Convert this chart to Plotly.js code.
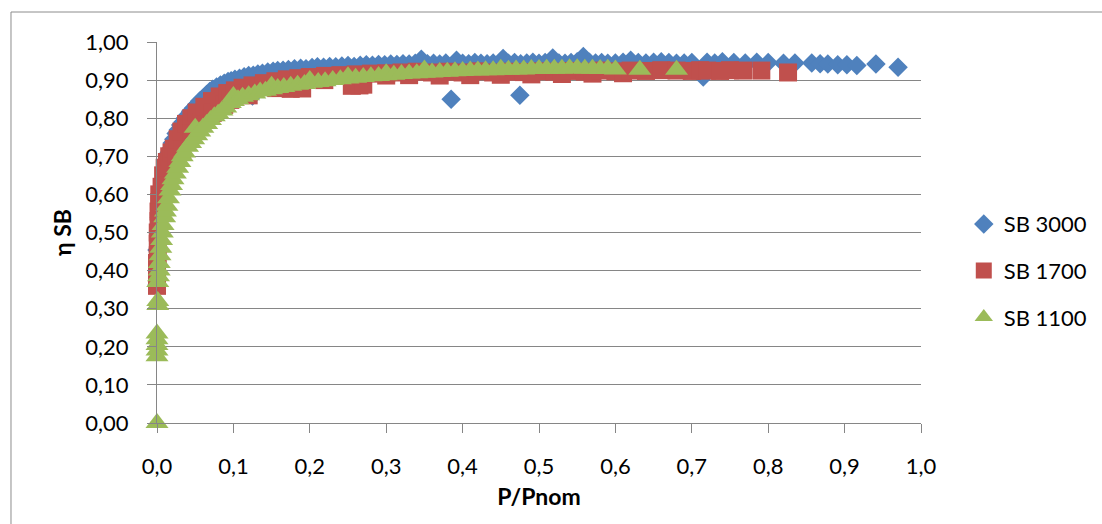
<!DOCTYPE html>
<html>
<head>
<meta charset="utf-8">
<script src="https://cdn.plot.ly/plotly-3.0.1.min.js"></script>
<style>
  html, body { margin: 0; padding: 0; background: #ffffff; }
  #chart { width: 1102px; height: 524px; }
</style>
</head>
<body>
<div id="chart"></div>
<script>
// ---- Data ----
const seriesNames = ["SB 3000", "SB 1700", "SB 1100"];

const sb3000_p = [
  0.000, 0.000, 0.000, 0.002, 0.003, 0.005, 0.007, 0.009, 0.011, 0.012,
  0.014, 0.016, 0.018, 0.020, 0.022, 0.025, 0.028, 0.031, 0.034, 0.037,
  0.040, 0.044, 0.048, 0.052, 0.056, 0.060, 0.065, 0.069, 0.073, 0.078,
  0.083, 0.088, 0.093, 0.097, 0.102, 0.108, 0.114, 0.120, 0.125, 0.126,
  0.132, 0.138, 0.145, 0.152, 0.158, 0.165, 0.172, 0.180, 0.188, 0.195,
  0.203, 0.210, 0.218, 0.226, 0.234, 0.242, 0.250, 0.258, 0.266, 0.266,
  0.274, 0.282, 0.290, 0.298, 0.306, 0.314, 0.322, 0.330, 0.338, 0.346,
  0.354, 0.362, 0.370, 0.378, 0.385, 0.392, 0.400, 0.408, 0.416, 0.424,
  0.432, 0.440, 0.453, 0.460, 0.468, 0.475, 0.476, 0.484, 0.492, 0.500,
  0.508, 0.518, 0.526, 0.534, 0.542, 0.550, 0.558, 0.566, 0.574, 0.582,
  0.590, 0.600, 0.610, 0.620, 0.630, 0.640, 0.650, 0.660, 0.670, 0.680,
  0.690, 0.700, 0.715, 0.720, 0.730, 0.740, 0.755, 0.770, 0.785, 0.800,
  0.820, 0.835, 0.857, 0.868, 0.878, 0.891, 0.903, 0.916, 0.941, 0.970
];
const sb3000_eta = [
  0.362, 0.400, 0.454, 0.500, 0.540, 0.580, 0.610, 0.635, 0.660, 0.675,
  0.690, 0.710, 0.720, 0.735, 0.745, 0.760, 0.770, 0.782, 0.790, 0.800,
  0.808, 0.818, 0.827, 0.836, 0.845, 0.852, 0.862, 0.870, 0.876, 0.882,
  0.887, 0.892, 0.896, 0.898, 0.902, 0.905, 0.909, 0.912, 0.858, 0.913,
  0.916, 0.918, 0.921, 0.923, 0.925, 0.926, 0.928, 0.930, 0.931, 0.930,
  0.933, 0.935, 0.934, 0.936, 0.935, 0.937, 0.938, 0.936, 0.892, 0.939,
  0.940, 0.939, 0.941, 0.940, 0.942, 0.941, 0.943, 0.942, 0.944, 0.955,
  0.943, 0.944, 0.942, 0.945, 0.850, 0.952, 0.944, 0.943, 0.946, 0.944,
  0.943, 0.945, 0.957, 0.944, 0.946, 0.860, 0.943, 0.945, 0.947, 0.944,
  0.946, 0.958, 0.945, 0.944, 0.946, 0.948, 0.962, 0.947, 0.945, 0.946,
  0.944, 0.945, 0.947, 0.952, 0.946, 0.945, 0.947, 0.948, 0.946, 0.944,
  0.945, 0.946, 0.908, 0.947, 0.945, 0.948, 0.946, 0.945, 0.947, 0.946,
  0.944, 0.945, 0.945, 0.943, 0.942, 0.940, 0.940, 0.938, 0.942, 0.934
];

const sb1700_p = [
  0.000, 0.000, 0.000, 0.000, 0.001, 0.001, 0.001, 0.002, 0.002, 0.003,
  0.003, 0.006, 0.008, 0.010, 0.013, 0.016, 0.019, 0.022, 0.025, 0.027,
  0.032, 0.033, 0.038, 0.045, 0.045, 0.052, 0.058, 0.062, 0.072, 0.073,
  0.082, 0.088, 0.092, 0.096, 0.102, 0.112, 0.113, 0.120, 0.125, 0.140,
  0.155, 0.156, 0.170, 0.175, 0.182, 0.185, 0.190, 0.200, 0.219, 0.220,
  0.240, 0.255, 0.260, 0.265, 0.270, 0.280, 0.300, 0.300, 0.320, 0.330,
  0.340, 0.360, 0.370, 0.380, 0.400, 0.410, 0.420, 0.440, 0.450, 0.460,
  0.480, 0.490, 0.500, 0.520, 0.530, 0.540, 0.560, 0.570, 0.580, 0.600,
  0.610, 0.620, 0.640, 0.660, 0.680, 0.700, 0.711, 0.720, 0.737, 0.750,
  0.767, 0.791, 0.826
];
const sb1700_eta = [
  0.360, 0.380, 0.400, 0.420, 0.440, 0.470, 0.500, 0.530, 0.555, 0.580,
  0.600, 0.620, 0.650, 0.670, 0.685, 0.700, 0.710, 0.720, 0.700, 0.745,
  0.765, 0.717, 0.785, 0.800, 0.760, 0.815, 0.790, 0.830, 0.845, 0.814,
  0.857, 0.835, 0.866, 0.848, 0.873, 0.880, 0.866, 0.860, 0.886, 0.892,
  0.897, 0.879, 0.902, 0.877, 0.887, 0.905, 0.878, 0.908, 0.900, 0.911,
  0.913, 0.885, 0.915, 0.886, 0.888, 0.917, 0.918, 0.912, 0.920, 0.913,
  0.922, 0.920, 0.912, 0.922, 0.920, 0.913, 0.923, 0.920, 0.914, 0.922,
  0.921, 0.915, 0.923, 0.922, 0.916, 0.924, 0.922, 0.917, 0.925, 0.923,
  0.918, 0.925, 0.924, 0.926, 0.925, 0.924, 0.926, 0.925, 0.924, 0.926,
  0.925, 0.925, 0.920
];

const sb1100_p = [
  0.000, 0.000, 0.000, 0.000, 0.000, 0.000, 0.001, 0.001, 0.001, 0.002,
  0.003, 0.003, 0.004, 0.005, 0.006, 0.007, 0.008, 0.010, 0.011, 0.013,
  0.015, 0.017, 0.019, 0.021, 0.024, 0.027, 0.030, 0.033, 0.036, 0.040,
  0.044, 0.048, 0.050, 0.052, 0.056, 0.060, 0.065, 0.070, 0.075, 0.080,
  0.085, 0.090, 0.096, 0.100, 0.100, 0.106, 0.112, 0.120, 0.128, 0.135,
  0.142, 0.150, 0.150, 0.158, 0.166, 0.175, 0.184, 0.193, 0.200, 0.202,
  0.211, 0.220, 0.230, 0.240, 0.250, 0.250, 0.260, 0.270, 0.280, 0.290,
  0.300, 0.300, 0.310, 0.320, 0.330, 0.340, 0.350, 0.350, 0.360, 0.370,
  0.380, 0.390, 0.400, 0.410, 0.420, 0.430, 0.440, 0.450, 0.450, 0.460,
  0.470, 0.480, 0.490, 0.500, 0.510, 0.520, 0.530, 0.540, 0.550, 0.560,
  0.570, 0.580, 0.590, 0.600, 0.632, 0.680
];
const sb1100_eta = [
  0.000, 0.175, 0.190, 0.205, 0.220, 0.235, 0.310, 0.320, 0.370, 0.385,
  0.400, 0.420, 0.440, 0.460, 0.480, 0.500, 0.520, 0.540, 0.555, 0.570,
  0.590, 0.610, 0.625, 0.640, 0.655, 0.670, 0.685, 0.700, 0.710, 0.725,
  0.735, 0.745, 0.775, 0.755, 0.765, 0.775, 0.785, 0.795, 0.805, 0.812,
  0.820, 0.828, 0.840, 0.845, 0.858, 0.850, 0.856, 0.860, 0.865, 0.870,
  0.872, 0.876, 0.885, 0.879, 0.882, 0.885, 0.888, 0.890, 0.900, 0.893,
  0.895, 0.897, 0.900, 0.902, 0.904, 0.910, 0.906, 0.908, 0.910, 0.911,
  0.913, 0.918, 0.914, 0.916, 0.917, 0.918, 0.919, 0.928, 0.920, 0.921,
  0.922, 0.923, 0.924, 0.925, 0.925, 0.926, 0.926, 0.927, 0.930, 0.927,
  0.928, 0.928, 0.929, 0.929, 0.930, 0.930, 0.930, 0.931, 0.931, 0.930,
  0.930, 0.929, 0.930, 0.928, 0.927, 0.927
];

const xTickVals = [0, 0.1, 0.2, 0.3, 0.4, 0.5, 0.6, 0.7, 0.8, 0.9, 1.0];
const yTickVals = [0, 0.1, 0.2, 0.3, 0.4, 0.5, 0.6, 0.7, 0.8, 0.9, 1.0];

// ---- Styles ----
const FONT = "Lato, 'Open Sans', sans-serif";
const GRID = "#868686";

const traces = [
  { x: sb3000_p, y: sb3000_eta, name: seriesNames[0], type: "scatter", mode: "markers",
    cliponaxis: false, legendgroup: "a",
    marker: { symbol: "diamond", size: 15, color: "#4F81BD" } },
  { x: sb1700_p, y: sb1700_eta, name: seriesNames[1], type: "scatter", mode: "markers",
    cliponaxis: false, legendgroup: "b",
    marker: { symbol: "square", size: 18, color: "#C0504D" } },
  { x: sb1100_p, y: sb1100_eta, name: seriesNames[2], type: "scatter", mode: "markers",
    cliponaxis: false, legendgroup: "c",
    marker: { symbol: "triangle-up", size: 20, color: "#9BBB59" } }
];

const layout = {
  width: 1102, height: 524,
  margin: { l: 157, r: 181, t: 42, b: 101, pad: 0, autoexpand: false },
  paper_bgcolor: "#ffffff", plot_bgcolor: "#ffffff",
  separators: ",.",
  font: { family: FONT, size: 22, color: "#000000" },
  showlegend: true,
  legend: {
    x: 1.056, xanchor: "left", y: 0.40, yanchor: "middle",
    traceorder: "grouped", tracegroupgap: 15,
    font: { family: FONT, size: 22, color: "#000000" },
    bgcolor: "rgba(0,0,0,0)", borderwidth: 0
  },
  xaxis: {
    range: [0, 1], tickvals: xTickVals, tickformat: ".1f",
    showgrid: false, zeroline: false, automargin: false,
    showline: true, linecolor: GRID, linewidth: 1,
    ticks: "outside", ticklen: 9, tickcolor: GRID, tickwidth: 1,
    ticklabelstandoff: 15,
    tickfont: { family: FONT, size: 22, color: "#000000" },
    title: { text: "<b>P/Pnom</b>", font: { family: FONT, size: 23, color: "#000000" }, standoff: 10 }
  },
  yaxis: {
    range: [0, 1], tickvals: yTickVals, tickformat: ".2f",
    showgrid: true, gridcolor: GRID, gridwidth: 1, zeroline: false, automargin: false,
    showline: true, linecolor: GRID, linewidth: 1,
    ticks: "outside", ticklen: 9, tickcolor: GRID, tickwidth: 1,
    ticklabelstandoff: 14,
    tickfont: { family: FONT, size: 22, color: "#000000" },
    title: { text: "<b>η SB</b>", font: { family: FONT, size: 23, color: "#000000" }, standoff: 7 }
  },
  shapes: [
    { type: "rect", xref: "paper", yref: "paper", layer: "below",
      x0: -0.1911, x1: 1.26, y0: -0.30, y1: 1.0787,
      line: { color: "#8c8c8c", width: 1 }, fillcolor: "rgba(0,0,0,0)" }
  ]
};

Plotly.newPlot("chart", traces, layout, { displayModeBar: false, staticPlot: true });
</script>
</body>
</html>
